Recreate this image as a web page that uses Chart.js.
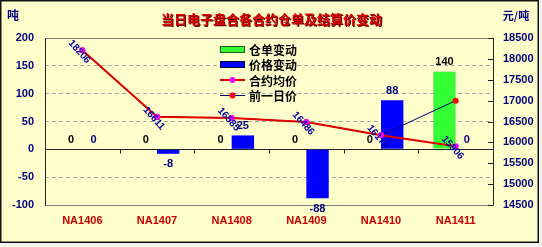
<!DOCTYPE html>
<html><head><meta charset="utf-8">
<script src="https://cdn.jsdelivr.net/npm/chart.js@4/dist/chart.umd.min.js"></script>
<style>html,body{margin:0;padding:0;background:#f2f2f2;overflow:hidden}#wrap{width:542px;height:247px;position:relative}</style>
</head><body><div id="wrap"><canvas id="c" width="542" height="247"></canvas></div>
<script>
const categories = ['NA1406','NA1407','NA1408','NA1409','NA1410','NA1411'];
const warrantChange = [0, 0, 0, 0, 0, 140];
const priceChange = [0, -8, 25, -88, 88, 0];
const avgPrice = [18206, 16611, 16585, 16486, 16170, 15906];
const prevPrice = [18206, 16611, 16585, 16486, 16170, 17000];
const seriesNames = ['仓单变动', '价格变动', '合约均价', '前一日价'];
const leftRange = [-100, 200, 50];
const rightRange = [14500, 18500, 500];
const titleText = '当日电子盘合各合约仓单及结算价变动';
const leftUnit = '吨';
const rightUnit = '元/吨';

const NAVY = '#000080';
const CJK = '"Noto Sans CJK SC", sans-serif';
const LAT = '"Liberation Sans", Arial, sans-serif';

const deco = {
  id: 'deco',
  beforeDraw(chart) {
    const c = chart.ctx;
    c.save();
    c.fillStyle = '#FFFFCC';
    c.fillRect(0, 0, 539, 243);
    c.restore();
  },
  beforeDatasetsDraw(chart) {
    const c = chart.ctx, a = chart.chartArea, y = chart.scales.y;
    c.save();
    const y0 = Math.round(y.getPixelForValue(0)) + 0.5;
    c.strokeStyle = '#222';
    c.lineWidth = 1;
    c.beginPath();
    c.moveTo(a.left, y0); c.lineTo(a.right, y0);
    const n = categories.length, w = (a.right - a.left) / n;
    for (let k = 1; k < n; k++) {
      const xx = Math.round(a.left + k * w) + 0.5;
      c.moveTo(xx, y0); c.lineTo(xx, y0 + 4);
    }
    c.stroke();
    c.restore();
  },
  afterDraw(chart) {
    const c = chart.ctx, a = chart.chartArea, y1 = chart.scales.y1;
    c.save();
    // frame
    c.lineWidth = 1;
    c.strokeStyle = '#808080';
    c.beginPath();
    c.moveTo(a.left, Math.round(a.top) + 0.5); c.lineTo(a.right, Math.round(a.top) + 0.5);
    c.moveTo(a.left, Math.round(a.bottom) + 0.5); c.lineTo(a.right, Math.round(a.bottom) + 0.5);
    c.stroke();
    c.strokeStyle = '#222';
    c.beginPath();
    c.moveTo(Math.round(a.left) + 0.5, a.top); c.lineTo(Math.round(a.left) + 0.5, a.bottom + 0.5);
    c.moveTo(Math.round(a.right) + 0.5, a.top); c.lineTo(Math.round(a.right) + 0.5, a.bottom + 0.5);
    for (let v = rightRange[0]; v <= rightRange[1]; v += rightRange[2]) {
      const yy = Math.round(y1.getPixelForValue(v)) + 0.5;
      c.moveTo(a.right - 5, yy); c.lineTo(a.right, yy);
    }
    c.stroke();

    // bar labels
    c.font = 'bold 11px ' + LAT;
    c.textAlign = 'center';
    [0, 1].forEach(di => {
      const meta = chart.getDatasetMeta(di);
      const vals = chart.data.datasets[di].data;
      c.fillStyle = di === 0 ? '#000' : NAVY;
      meta.data.forEach((bar, i) => {
        const v = vals[i];
        if (v >= 0) { c.textBaseline = 'bottom'; c.fillText(String(v), bar.x, Math.min(bar.y, bar.base) - 4); }
        else { c.textBaseline = 'top'; c.fillText(String(v), bar.x, Math.max(bar.y, bar.base) + 5); }
      });
    });

    // line labels (rotated)
    const lm = chart.getDatasetMeta(2);
    c.font = 'bold 10px ' + LAT;
    c.fillStyle = '#0000A0';
    c.textAlign = 'center';
    c.textBaseline = 'middle';
    lm.data.forEach((p, i) => {
      c.save();
      c.translate(p.x - 3, p.y + 1.5);
      c.rotate(48 * Math.PI / 180);
      c.fillText(String(avgPrice[i]), 0, 0);
      c.restore();
    });

    // legend
    const rows = [49, 64, 80, 95];
    const lx = 220, lw = 25;
    c.lineWidth = 1;
    c.fillStyle = '#33FF33'; c.strokeStyle = '#1a5a1a';
    c.fillRect(lx, rows[0] - 3, lw, 7); c.strokeRect(lx + 0.5, rows[0] - 2.5, lw - 1, 6);
    c.fillStyle = '#0000FF'; c.strokeStyle = '#000040';
    c.fillRect(lx, rows[1] - 3, lw, 7); c.strokeRect(lx + 0.5, rows[1] - 2.5, lw - 1, 6);
    c.strokeStyle = '#E00000'; c.lineWidth = 2;
    c.beginPath(); c.moveTo(lx, rows[2]); c.lineTo(lx + lw, rows[2]); c.stroke();
    c.fillStyle = '#FF00FF'; c.beginPath(); c.arc(lx + lw / 2, rows[2], 3, 0, Math.PI * 2); c.fill();
    c.strokeStyle = NAVY; c.lineWidth = 1;
    c.beginPath(); c.moveTo(lx, rows[3] + 0.5); c.lineTo(lx + lw, rows[3] + 0.5); c.stroke();
    c.fillStyle = '#FF0000'; c.beginPath(); c.arc(lx + lw / 2, rows[3] + 0.5, 3, 0, Math.PI * 2); c.fill();
    c.font = 'bold 12px ' + CJK;
    c.fillStyle = '#000';
    c.textAlign = 'left';
    c.textBaseline = 'middle';
    seriesNames.forEach((s, i) => c.fillText(s, lx + lw + 4, rows[i] + 1));

    // title
    c.font = 'bold 13px ' + CJK;
    c.textAlign = 'center';
    c.fillStyle = '#5a0000';
    c.fillText(titleText, 272.5, 20);
    c.fillStyle = '#DD0000';
    c.fillText(titleText, 271.5, 19);

    // units
    c.fillStyle = NAVY;
    c.font = 'bold 12px ' + CJK;
    c.fillText(leftUnit, 13, 15);
    c.font = 'bold 11px ' + CJK;
    c.fillText(rightUnit, 516, 16);

    // outer border
    c.strokeStyle = '#111';
    c.lineWidth = 1.5;
    c.strokeRect(0.75, 0.75, 537.5, 241.5);
    c.restore();
  }
};

new Chart(document.getElementById('c'), {
  data: {
    labels: categories,
    datasets: [
      { type: 'bar', label: seriesNames[0], data: warrantChange, yAxisID: 'y', backgroundColor: '#33FF33', borderColor: '#22aa22', borderWidth: 0.5, order: 2 },
      { type: 'bar', label: seriesNames[1], data: priceChange, yAxisID: 'y', backgroundColor: '#0000FF', borderWidth: 0, order: 3 },
      { type: 'line', label: seriesNames[2], data: avgPrice, yAxisID: 'y1', borderColor: '#E00000', borderWidth: 2, pointRadius: 3, pointBackgroundColor: '#FF00FF', pointBorderColor: '#FF00FF', pointBorderWidth: 0, tension: 0, order: 0 },
      { type: 'line', label: seriesNames[3], data: prevPrice, yAxisID: 'y1', borderColor: NAVY, borderWidth: 1, pointRadius: 3, pointBackgroundColor: '#FF0000', pointBorderColor: '#FF0000', pointBorderWidth: 0, tension: 0, order: 1 }
    ]
  },
  options: {
    responsive: false,
    animation: false,
    devicePixelRatio: 1,
    layout: { padding: { top: 38, left: 0, right: 0, bottom: 0 } },
    plugins: { legend: { display: false }, tooltip: { enabled: false } },
    datasets: { bar: { categoryPercentage: 0.6, barPercentage: 1.0 } },
    scales: {
      x: {
        position: 'bottom',
        grid: { display: false, drawTicks: false },
        border: { display: false },
        ticks: { color: '#CC0000', font: { family: LAT, size: 11, weight: 'bold' }, padding: 9, maxRotation: 0, autoSkip: false },
        afterFit(s) { s.height = 42; }
      },
      y: {
        position: 'left',
        min: leftRange[0], max: leftRange[1],
        ticks: { stepSize: leftRange[2], color: NAVY, font: { family: LAT, size: 11, weight: 'bold' }, padding: 11, callback: v => String(v) },
        grid: { drawTicks: false, color: ctx => (ctx.tick && (ctx.tick.value === 0 || ctx.tick.value === leftRange[0] || ctx.tick.value === leftRange[1])) ? 'rgba(0,0,0,0)' : '#A8A8A8', lineWidth: 1 },
        border: { display: false, dash: [4, 3] },
        afterFit(s) { s.width = 45; }
      },
      y1: {
        position: 'right',
        min: rightRange[0], max: rightRange[1],
        ticks: { stepSize: rightRange[2], color: NAVY, font: { family: LAT, size: 11, weight: 'bold' }, padding: 10, callback: v => String(v) },
        grid: { display: false, drawTicks: false },
        border: { display: false },
        afterFit(s) { s.width = 49; }
      }
    }
  },
  plugins: [deco]
});
</script>
</body></html>
